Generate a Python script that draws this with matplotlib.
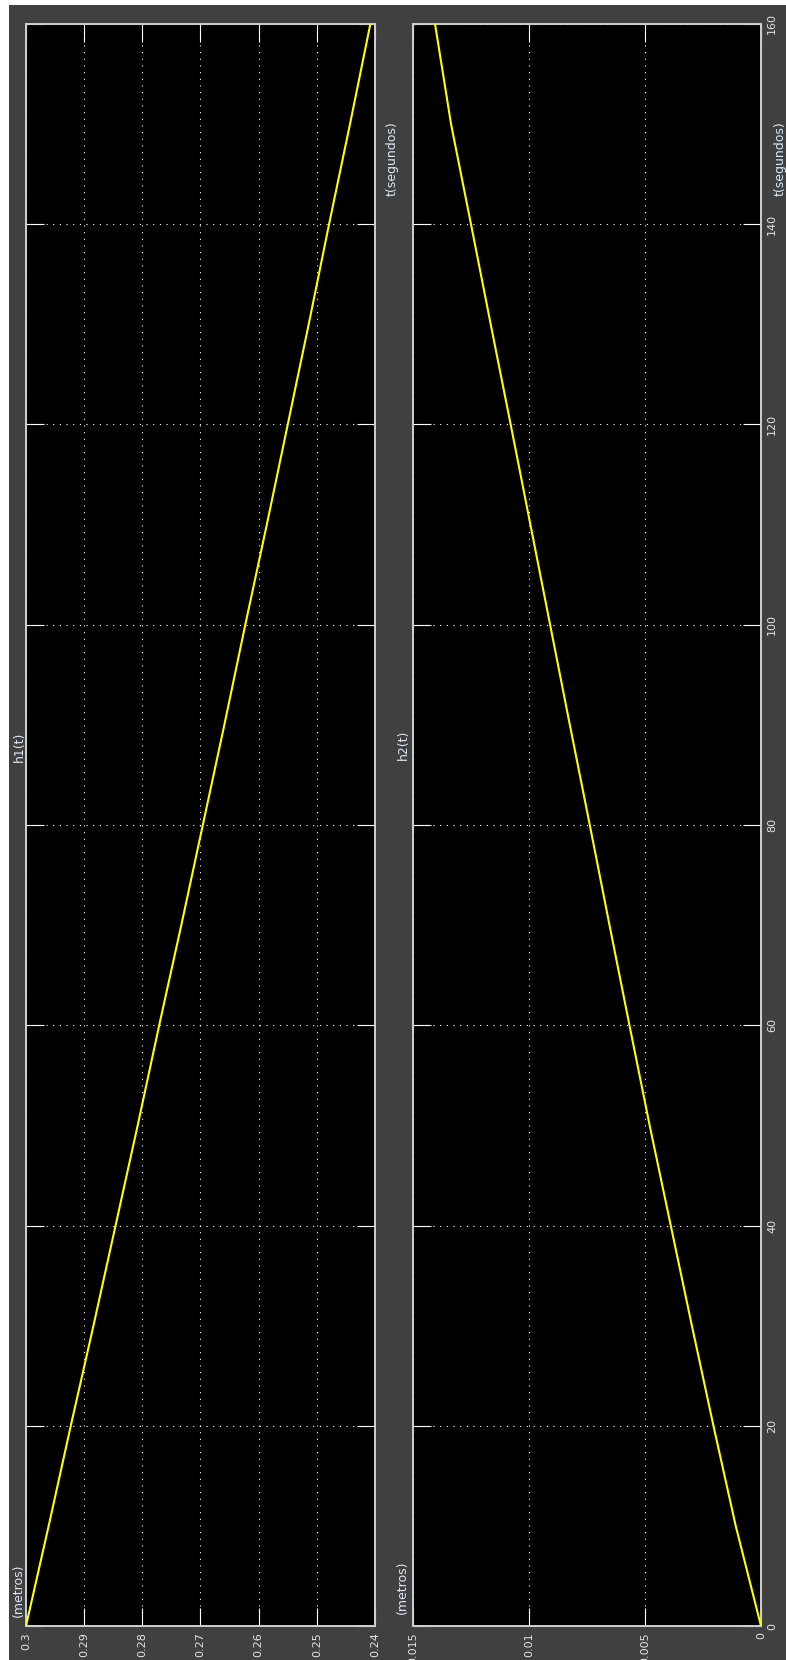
import matplotlib.pyplot as plt
from matplotlib.patches import Rectangle

t = [0, 10, 20, 30, 40, 50, 60, 70, 80, 90, 100, 110, 120, 130, 140, 150, 160]
h1 = [0.3000, 0.2961, 0.2923, 0.2884, 0.2846, 0.2808, 0.2771, 0.2733, 0.2696,
      0.2659, 0.2623, 0.2586, 0.2550, 0.2514, 0.2479, 0.2443, 0.2408]
h2 = [0.0, 0.00109, 0.00205, 0.00298, 0.00389, 0.00480, 0.00567, 0.00653, 0.00738,
      0.00824, 0.00909, 0.00994, 0.01079, 0.01165, 0.01250, 0.01336, 0.01405]

h1_ticks = [0.3, 0.29, 0.28, 0.27, 0.26, 0.25, 0.24]
h1_labels = ['0.3', '0.29', '0.28', '0.27', '0.26', '0.25', '0.24']
h2_ticks = [0.015, 0.01, 0.005, 0]
h2_labels = ['0.015', '0.01', '0.005', '0']
t_ticks = [0, 20, 40, 60, 80, 100, 120, 140, 160]
t_labels = ['0', '20', '40', '60', '80', '100', '120', '140', '160']

W, H = 786, 1660
fig = plt.figure(figsize=(W / 100, H / 100), dpi=100, facecolor='white')
# fundo cinza do scope (com faixa branca em cima e a esquerda)
fig.patches.append(Rectangle((9 / W, 0), 1 - 9 / W, 1 - 5 / H, transform=fig.transFigure,
                             facecolor='#404040', edgecolor='none', zorder=-10))

bot = (H - 1626) / H
alt = 1602 / H
ax1 = fig.add_axes([26 / W, bot, (375 - 26) / W, alt])
ax2 = fig.add_axes([413 / W, bot, (761 - 413) / W, alt])

txt = '#e4e4e4'
lab = '#dde8f5'


def estilo(ax, xt, xl, xlim):
    ax.set_zorder(2)
    ax.set_facecolor('black')
    ax.set_xlim(*xlim)
    ax.set_ylim(0, 160)
    ax.set_xticks(xt)
    ax.set_xticklabels(xl, rotation=90)
    ax.set_yticks(t_ticks)
    for s in ax.spines.values():
        s.set_color('#d0d0d0')
        s.set_linewidth(1.4)
    ax.tick_params(which='both', direction='in', length=13, width=0.8, color='white',
                   top=True, bottom=True, left=True, right=True,
                   labelcolor=txt, labelsize=8, pad=4.3)
    ax.grid(True, color='white', linestyle=(0, (1, 5)), linewidth=0.8)


estilo(ax1, h1_ticks, h1_labels, (0.3, 0.24))
ax1.plot(h1, t, color='#ffff00', linewidth=1.5, zorder=3)
ax1.tick_params(labelleft=False, labelright=False)

estilo(ax2, h2_ticks, h2_labels, (0.015, 0))
ax2.plot(h2, t, color='#ffff00', linewidth=1.5, zorder=3)
ax2.set_yticklabels(t_labels, rotation=90, va='center')
ax2.tick_params(labelleft=False, labelright=True)


def px(x, y):
    return x / W, (H - y) / H


# titulos e rotulos dos eixos (girados como no scope)
fig.text(*px(19, 747), 'h1(t)', rotation=90, ha='center', va='center', color=lab, fontsize=9)
fig.text(*px(403, 745), 'h2(t)', rotation=90, ha='center', va='center', color=lab, fontsize=9)
fig.text(*px(18, 1617), '(metros)', rotation=90, ha='center', va='bottom', color=lab, fontsize=9)
fig.text(*px(402, 1614), '(metros)', rotation=90, ha='center', va='bottom', color=lab, fontsize=9)
fig.text(*px(392, 196), 't(segundos)', rotation=90, ha='center', va='bottom', color=lab, fontsize=9)
fig.text(*px(780, 196), 't(segundos)', rotation=90, ha='center', va='bottom', color=lab, fontsize=9)

fig.savefig('out.png', dpi=100, facecolor=fig.get_facecolor())
